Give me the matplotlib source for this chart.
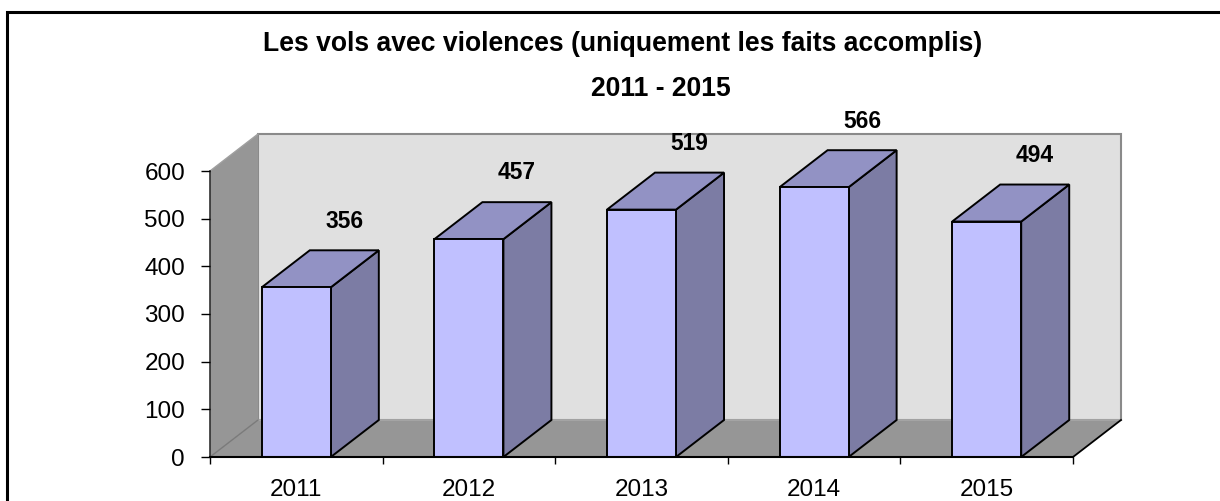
import matplotlib
matplotlib.use('Agg')
import matplotlib.pyplot as plt
from matplotlib.patches import Polygon, Rectangle
from matplotlib.lines import Line2D

# ---- data ----
years = ['2011', '2012', '2013', '2014', '2015']
values = [356, 457, 519, 566, 494]
yticks = [0, 100, 200, 300, 400, 500, 600]
title1 = 'Les vols avec violences (uniquement les faits accomplis)'
title2 = '2011 - 2015'

plt.rcParams['font.family'] = ['Liberation Sans', 'DejaVu Sans']

W, H = 1220, 501
fig = plt.figure(figsize=(12.2, 5.01), dpi=100)
fig.patch.set_facecolor('white')

ax = fig.add_axes([210 / W, (H - 457) / H, 863 / W, 286 / H])
n = len(years)
ymax = yticks[-1]
ax.set_xlim(0, n)
ax.set_ylim(0, ymax)
ax.patch.set_alpha(0)

# depth of the pseudo-3D box (in data units)
DX = 48 / 863 * n
DY = 37 / 286 * ymax

wall_c = '#E0E0E0'
floor_c = '#969696'
front_c = '#C0C0FF'
top_c = '#9292C4'
side_c = '#7C7CA4'

# back wall
ax.add_patch(Polygon([(DX, DY), (n + DX, DY), (n + DX, ymax + DY), (DX, ymax + DY)],
                     closed=True, fc=wall_c, ec='#8A8A8A', lw=1.5, clip_on=False, zorder=0.5))
# floor
ax.add_patch(Polygon([(0, 0), (n, 0), (n + DX, DY), (DX, DY)],
                     closed=True, fc=floor_c, ec='none', clip_on=False, zorder=0.6))
ax.add_line(Line2D([DX, n + DX], [DY, DY], color='#A8A8A8', lw=1.2, clip_on=False, zorder=0.7))
ax.add_line(Line2D([n, n + DX], [0, DY], color='black', lw=1.3, clip_on=False, zorder=0.7))
ax.add_line(Line2D([0, DX], [0, DY], color='#7A7A7A', lw=1.0, clip_on=False, zorder=0.7))
# left side wall
ax.add_patch(Polygon([(0, 0), (DX, DY), (DX, ymax + DY), (0, ymax)],
                     closed=True, fc=floor_c, ec='none', clip_on=False, zorder=0.6))
ax.add_line(Line2D([0, DX], [ymax, ymax + DY], color='#A0A0A0', lw=1.0, clip_on=False, zorder=0.7))

# bars
bw = 0.4
centers = [i + 0.5 for i in range(n)]
for c, v in zip(centers, values):
    x0, x1 = c - bw / 2, c + bw / 2
    ax.add_patch(Polygon([(x1, 0), (x1 + DX, DY), (x1 + DX, v + DY), (x1, v)],
                         closed=True, fc=side_c, ec='black', lw=1.4, clip_on=False, zorder=2))
    ax.add_patch(Polygon([(x0, v), (x1, v), (x1 + DX, v + DY), (x0 + DX, v + DY)],
                         closed=True, fc=top_c, ec='black', lw=1.4, clip_on=False, zorder=2))
ax.bar(centers, values, width=bw, color=front_c, edgecolor='black', linewidth=1.4, zorder=3)

# data labels
for c, v in zip(centers, values):
    ax.annotate(str(v), xy=(c + DX, v + DY), xytext=(0, 21), textcoords='offset points',
                ha='center', va='center', fontsize=16.4, fontweight='bold', annotation_clip=False)

# axes
for s in ['top', 'right']:
    ax.spines[s].set_visible(False)
ax.spines['left'].set_color('#303030')
ax.spines['left'].set_linewidth(1.2)
ax.spines['bottom'].set_color('black')
ax.spines['bottom'].set_linewidth(1.5)
ax.spines['left'].set_zorder(1)
ax.spines['bottom'].set_zorder(4)

ax.set_yticks(yticks)
ax.set_yticklabels([str(t) for t in yticks])
ax.tick_params(axis='y', length=6.5, width=1, direction='out', pad=11.5, labelsize=17.5, colors='black')
ax.set_xticks(range(n + 1))
ax.set_xticklabels([''] * (n + 1))
ax.set_xticks(centers, minor=True)
ax.set_xticklabels(years, minor=True)
ax.tick_params(axis='x', which='major', length=5, width=1, direction='out')
ax.tick_params(axis='x', which='minor', length=0, pad=16, labelsize=17.5)

# titles
fig.text(622.5 / W, 1 - 44 / H, title1, ha='center', va='center', fontsize=19.1, fontweight='bold')
fig.text(661 / W, 1 - 89 / H, title2, ha='center', va='center', fontsize=19.1, fontweight='bold')

# outer chart frame (extends past the right and bottom edges)
fig.add_artist(Rectangle((7 / W, -0.1), 1.2, 1 - 12 / H + 0.1, transform=fig.transFigure,
                         fill=False, ec='black', lw=2.2, clip_on=False))

fig.savefig('out.png', dpi=100, facecolor='white')
